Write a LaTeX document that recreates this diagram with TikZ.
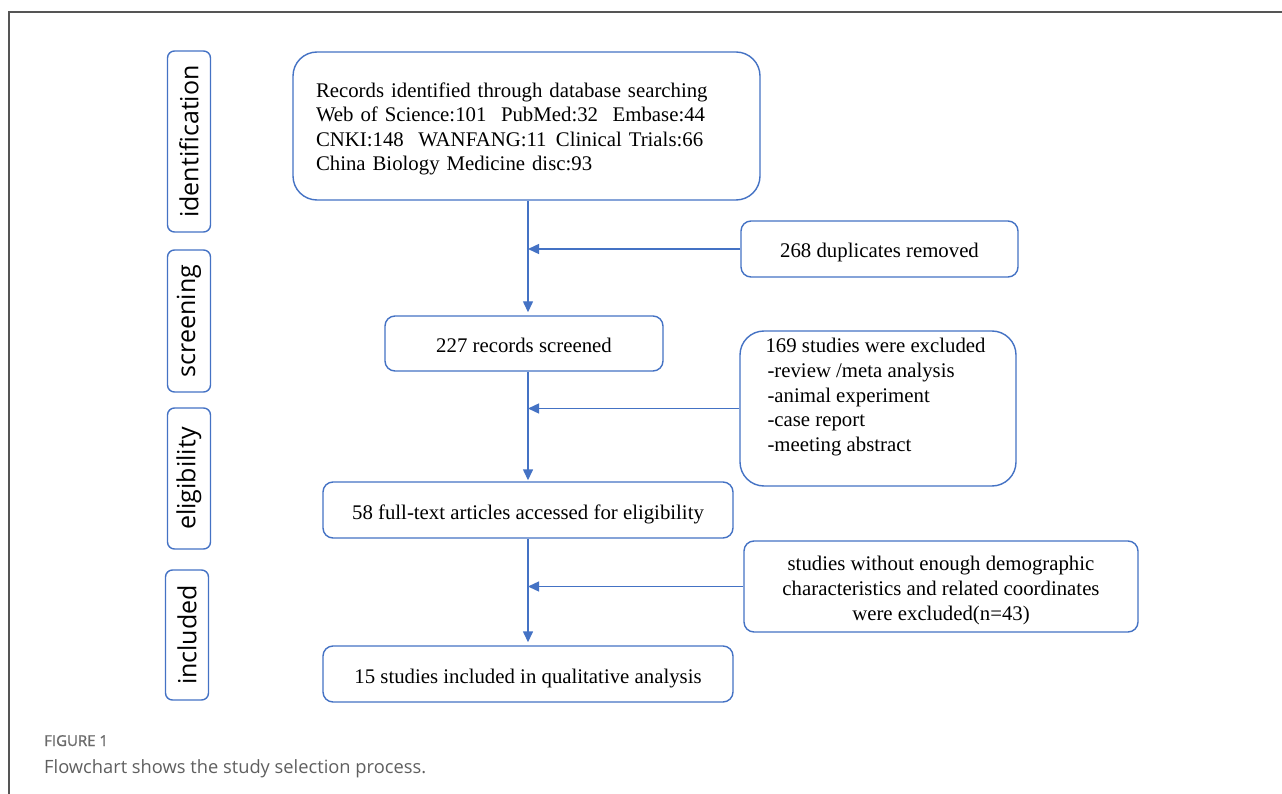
\documentclass[tikz,border=0pt]{standalone}
\usepackage{fontspec}
\setmainfont{Liberation Serif}
\newfontfamily\stagefont{Open Sans}
\newfontfamily\capfont{Open Sans}
\newfontfamily\capheadfont{Open Sans}[FakeBold=1.2]
\usetikzlibrary{arrows.meta,calc}
\definecolor{flowblue}{HTML}{4472C4}
\definecolor{framegray}{HTML}{555555}
\definecolor{capgray}{HTML}{6A6A6A}
\tikzset{
  box/.style={draw=flowblue, line width=1.4pt, rounded corners=10pt, inner sep=0pt, fill=white},
  bigbox/.style={box, rounded corners=24pt},
  stagebox/.style={draw=flowblue, line width=1.4pt, rounded corners=7pt, inner sep=0pt, minimum width=43pt},
  stagetext/.style={font=\stagefont\fontsize{25}{28}\selectfont, text=black, rotate=90},
  txt/.style={font=\fontsize{20.8}{24.6}\selectfont, text=black},
  low/.style={text height=18pt, text depth=0pt},
  arr/.style={draw=flowblue, line width=1.4pt, -{Triangle[length=11pt,width=10pt]}},
  lin/.style={draw=flowblue, line width=1.4pt}
}
\begin{document}
\begin{tikzpicture}[x=1pt,y=-1pt]
\useasboundingbox (0,0) rectangle (1282,794);
% frame
\draw[framegray, line width=1.5pt] (9,794) -- (9,12) -- (1282,12);
% stages
\node[stagebox, minimum height=181pt] (s1) at (189,141.5) {};
\node[stagetext] (s1t) at (s1.center) {identification};
\node[stagebox, minimum height=142pt] (s2) at (189,321) {};
\node[stagetext] (s2t) at (s2.center) {screening};
\node[stagebox, minimum height=141pt] (s3) at (189,478.5) {};
\node[stagetext] (s3t) at (s3.center) {eligibility};
\node[stagebox, minimum height=130pt] (s4) at (187,635) {};
\node[stagetext] (s4t) at (s4.center) {included};
% trunk coordinate
\coordinate (trunk) at (528,0);
% main boxes
\node[bigbox, minimum width=467pt, minimum height=148pt] (b1) at (526.5,126) {};
\node[txt, text width=421pt, inner sep=0pt, align=left] (b1t) at ($(b1.center)+(0,3)$)
 {Records identified through database searching\\
  Web of Science:101\hspace{0.7em}PubMed:32\hspace{0.7em}Embase:44\\
  CNKI:148\hspace{0.7em}WANFANG:11\hspace{0.45em}Clinical Trials:66\\
  China Biology Medicine disc:93};
\node[box, txt, low, minimum width=278pt, minimum height=55pt] (b2) at (524,343.5) {227 records screened};
\node[box, txt, low, minimum width=410pt, minimum height=56pt] (b3) at (528,510) {58 full-text articles accessed for eligibility};
\node[box, txt, low, minimum width=410pt, minimum height=56pt] (b4) at (528,674) {15 studies included in qualitative analysis};
% side boxes
\node[box, txt, low, minimum width=277pt, minimum height=56pt] (dup) at (879.5,249) {268 duplicates removed};
\node[bigbox, minimum width=276pt, minimum height=155pt] (ex1) at (878,408.5) {};
\node[txt, anchor=north west, align=left, inner sep=0pt] (ex1t) at ($(ex1.north west)+(26,8)$)
 {169 studies were excluded\\
  \hspace{2pt}-review /meta analysis\\
  \hspace{2pt}-animal experiment\\
  \hspace{2pt}-case report\\
  \hspace{2pt}-meeting abstract};
\node[box, minimum width=394pt, minimum height=91pt] (ex2) at (941,586.5) {};
\node[txt, align=center, inner sep=0pt] (ex2t) at ($(ex2.center)+(0,4)$)
 {studies without enough demographic\\characteristics and related coordinates\\were excluded(n=43)};
% connectors
\draw[arr, shorten >=3pt] (b1.south -| trunk) -- (b2.north -| trunk);
\draw[arr, shorten >=1pt] (b2.south -| trunk) -- (b3.north -| trunk);
\draw[arr, shorten >=3pt] (b3.south -| trunk) -- (b4.north -| trunk);
\draw[arr] (dup.west) -- (dup.west -| trunk);
\draw[arr] (ex1.west) -- (ex1.west -| trunk);
\draw[arr] (ex2.west) -- (ex2.west -| trunk);
% caption
\node[anchor=base west, inner sep=0pt, font=\capheadfont\fontsize{15}{17}\selectfont, text=capgray] (cap1) at (44,746) {FIGURE 1};
\node[anchor=base west, inner sep=0pt, font=\capfont\fontsize{18.3}{21}\selectfont, text=capgray!90!black] (cap2) at (44,773) {Flowchart shows the study selection process.};
\end{tikzpicture}
\end{document}
